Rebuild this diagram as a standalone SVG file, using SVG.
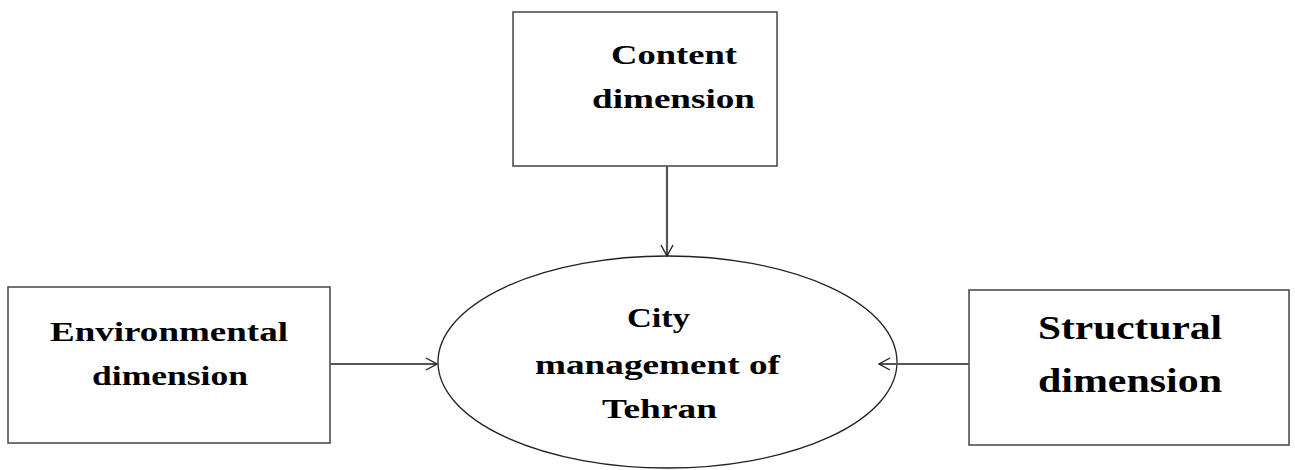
<svg xmlns="http://www.w3.org/2000/svg" width="1295" height="470" viewBox="0 0 1295 470">
<style>
.box{fill:#fff;stroke:#444;stroke-width:1.5}
.ell{fill:#fff;stroke:#222;stroke-width:1.3}
.lbl{font-family:"Liberation Serif","Times New Roman",serif;font-weight:bold;fill:#000}
.conn{stroke:#555;stroke-width:2.2;fill:none}
.head{stroke:#222;stroke-width:1.4;fill:none}
</style>
<defs>
<marker id="arr" markerWidth="14" markerHeight="14" refX="12" refY="7" orient="auto" markerUnits="userSpaceOnUse">
<path class="head" d="M1,1 L12,7 L1,13"/>
</marker>
</defs>
<rect width="1295" height="470" fill="#fff"/>
<g id="center">
<ellipse class="ell" cx="667.5" cy="362" rx="229.5" ry="106"/>
<text class="lbl" font-size="28" x="627" y="327" textLength="63" lengthAdjust="spacingAndGlyphs">City</text>
<text class="lbl" font-size="28" x="535" y="374" textLength="245" lengthAdjust="spacingAndGlyphs">management of</text>
<text class="lbl" font-size="28" x="602" y="418" textLength="115" lengthAdjust="spacingAndGlyphs">Tehran</text>
</g>
<g id="content">
<rect class="box" x="513" y="12" width="264" height="154"/>
<text class="lbl" font-size="28" x="611" y="64" textLength="126" lengthAdjust="spacingAndGlyphs">Content</text>
<text class="lbl" font-size="28" x="592" y="108" textLength="163" lengthAdjust="spacingAndGlyphs">dimension</text>
</g>
<g id="environmental">
<rect class="box" x="8" y="287" width="322" height="156"/>
<text class="lbl" font-size="28" x="50" y="341" textLength="238" lengthAdjust="spacingAndGlyphs">Environmental</text>
<text class="lbl" font-size="28" x="92" y="385" textLength="156" lengthAdjust="spacingAndGlyphs">dimension</text>
</g>
<g id="structural">
<rect class="box" x="969" y="290" width="320" height="155"/>
<text class="lbl" font-size="33" x="1038" y="339" textLength="184" lengthAdjust="spacingAndGlyphs">Structural</text>
<text class="lbl" font-size="33" x="1038" y="392" textLength="184" lengthAdjust="spacingAndGlyphs">dimension</text>
</g>
<g id="connectors">
<path class="conn" d="M667,166 L667,256" marker-end="url(#arr)"/>
<path class="conn" d="M330,364 L437,364" marker-end="url(#arr)"/>
<path class="conn" d="M969,364 L879,364" marker-end="url(#arr)"/>
</g>
</svg>
